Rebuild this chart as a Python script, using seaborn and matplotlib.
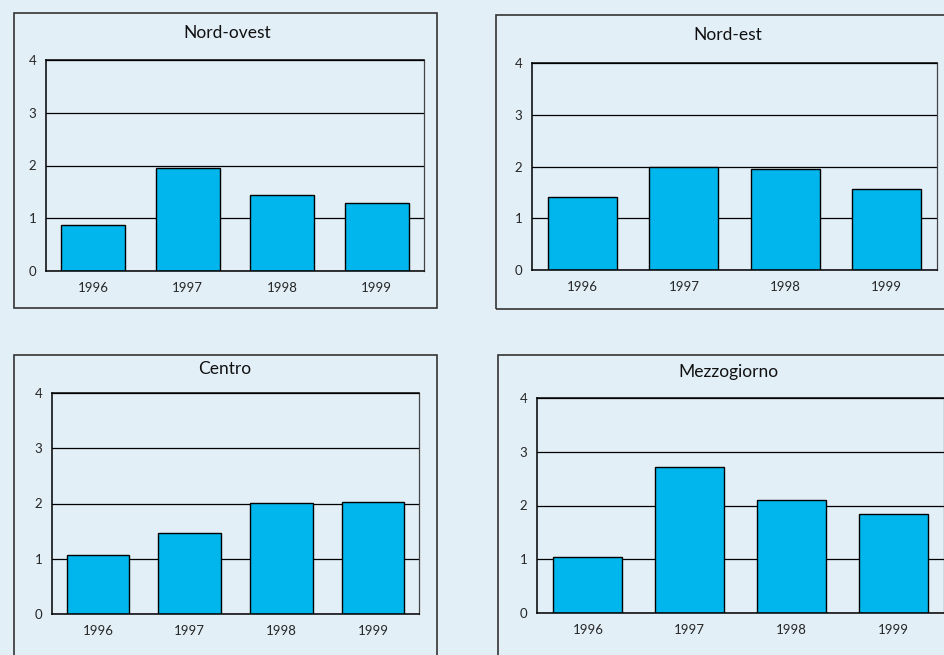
import matplotlib
matplotlib.use("Agg")
import matplotlib.pyplot as plt
import seaborn as sns
import pandas as pd
from matplotlib.patches import Rectangle

# =========================
# Data
# =========================
years = ["1996", "1997", "1998", "1999"]
nord_ovest = [0.88, 1.95, 1.44, 1.28]
nord_est = [1.42, 1.99, 1.95, 1.57]
centro = [1.06, 1.46, 2.01, 2.03]
mezzogiorno = [1.04, 2.71, 2.10, 1.84]
titles = ["Nord-ovest", "Nord-est", "Centro", "Mezzogiorno"]
y_ticks = [0, 1, 2, 3, 4]

series = [nord_ovest, nord_est, centro, mezzogiorno]

# =========================
# Style
# =========================
sns.set_theme(style="white")
plt.rcParams["font.family"] = ["Lato", "DejaVu Sans"]

BG = "#E2EFF7"
BAR = "#00B6EC"
W, H = 945, 655

fig = plt.figure(figsize=(W / 100, H / 100), dpi=100)
fig.patch.set_facecolor(BG)

# pixel layout: panel box (x0, y0, x1, y1), axes (x0, y0, x1, y1), title (x, y)
boxes = [(14, 13, 437, 308), (496, 15, 952, 309), (14, 355, 437, 662), (498, 355, 952, 662)]
axes_px = [(46, 60, 424, 271), (532, 63, 937, 270), (52, 393, 419, 614), (537, 398, 944, 613)]
title_px = [(227, 33), (728, 35), (225, 369), (728, 372)]


def fx(x):
    return x / W


def fy(y):
    return 1 - y / H


for i in range(4):
    bx0, by0, bx1, by1 = boxes[i]
    fig.patches.append(Rectangle((fx(bx0), fy(by1)), fx(bx1 - bx0), (by1 - by0) / H,
                                 transform=fig.transFigure, facecolor="none",
                                 edgecolor="#333333", linewidth=1.2))
    tx, ty = title_px[i]
    fig.text(fx(tx), fy(ty), titles[i], ha="center", va="center", fontsize=12.5, color="#111111")

    ax0, ay0, ax1, ay1 = axes_px[i]
    ax = fig.add_axes([fx(ax0), fy(ay1), fx(ax1 - ax0), (ay1 - ay0) / H])
    ax.set_facecolor(BG)

    df = pd.DataFrame({"anno": years, "valore": series[i]})
    sns.barplot(data=df, x="anno", y="valore", color=BAR, width=0.68,
                edgecolor="black", linewidth=1, saturation=1, ax=ax)

    ax.set_ylim(0, 4)
    ax.set_xlim(-0.5, 3.5)
    ax.set_yticks(y_ticks)
    ax.set_yticklabels([str(t) for t in y_ticks], fontsize=9.5)
    ax.set_xticks(range(4))
    ax.set_xticklabels(years, fontsize=9.5)
    ax.set_xticks([-0.5, 0.5, 1.5, 2.5, 3.5], minor=True)
    ax.tick_params(axis="x", which="major", length=0, pad=8)
    ax.tick_params(axis="x", which="minor", length=5, width=1, direction="out", color="black")
    ax.tick_params(axis="y", length=4, width=1, direction="out", color="black", pad=3)
    ax.set_xlabel("")
    ax.set_ylabel("")

    ax.yaxis.grid(True, color="black", linewidth=0.9)
    ax.set_axisbelow(True)
    for side in ["left", "bottom", "top"]:
        ax.spines[side].set_color("black")
        ax.spines[side].set_linewidth(1.1)
    ax.spines["right"].set_color("#444444")
    ax.spines["right"].set_linewidth(0.9)

fig.savefig("out.png", dpi=100, facecolor=BG)
